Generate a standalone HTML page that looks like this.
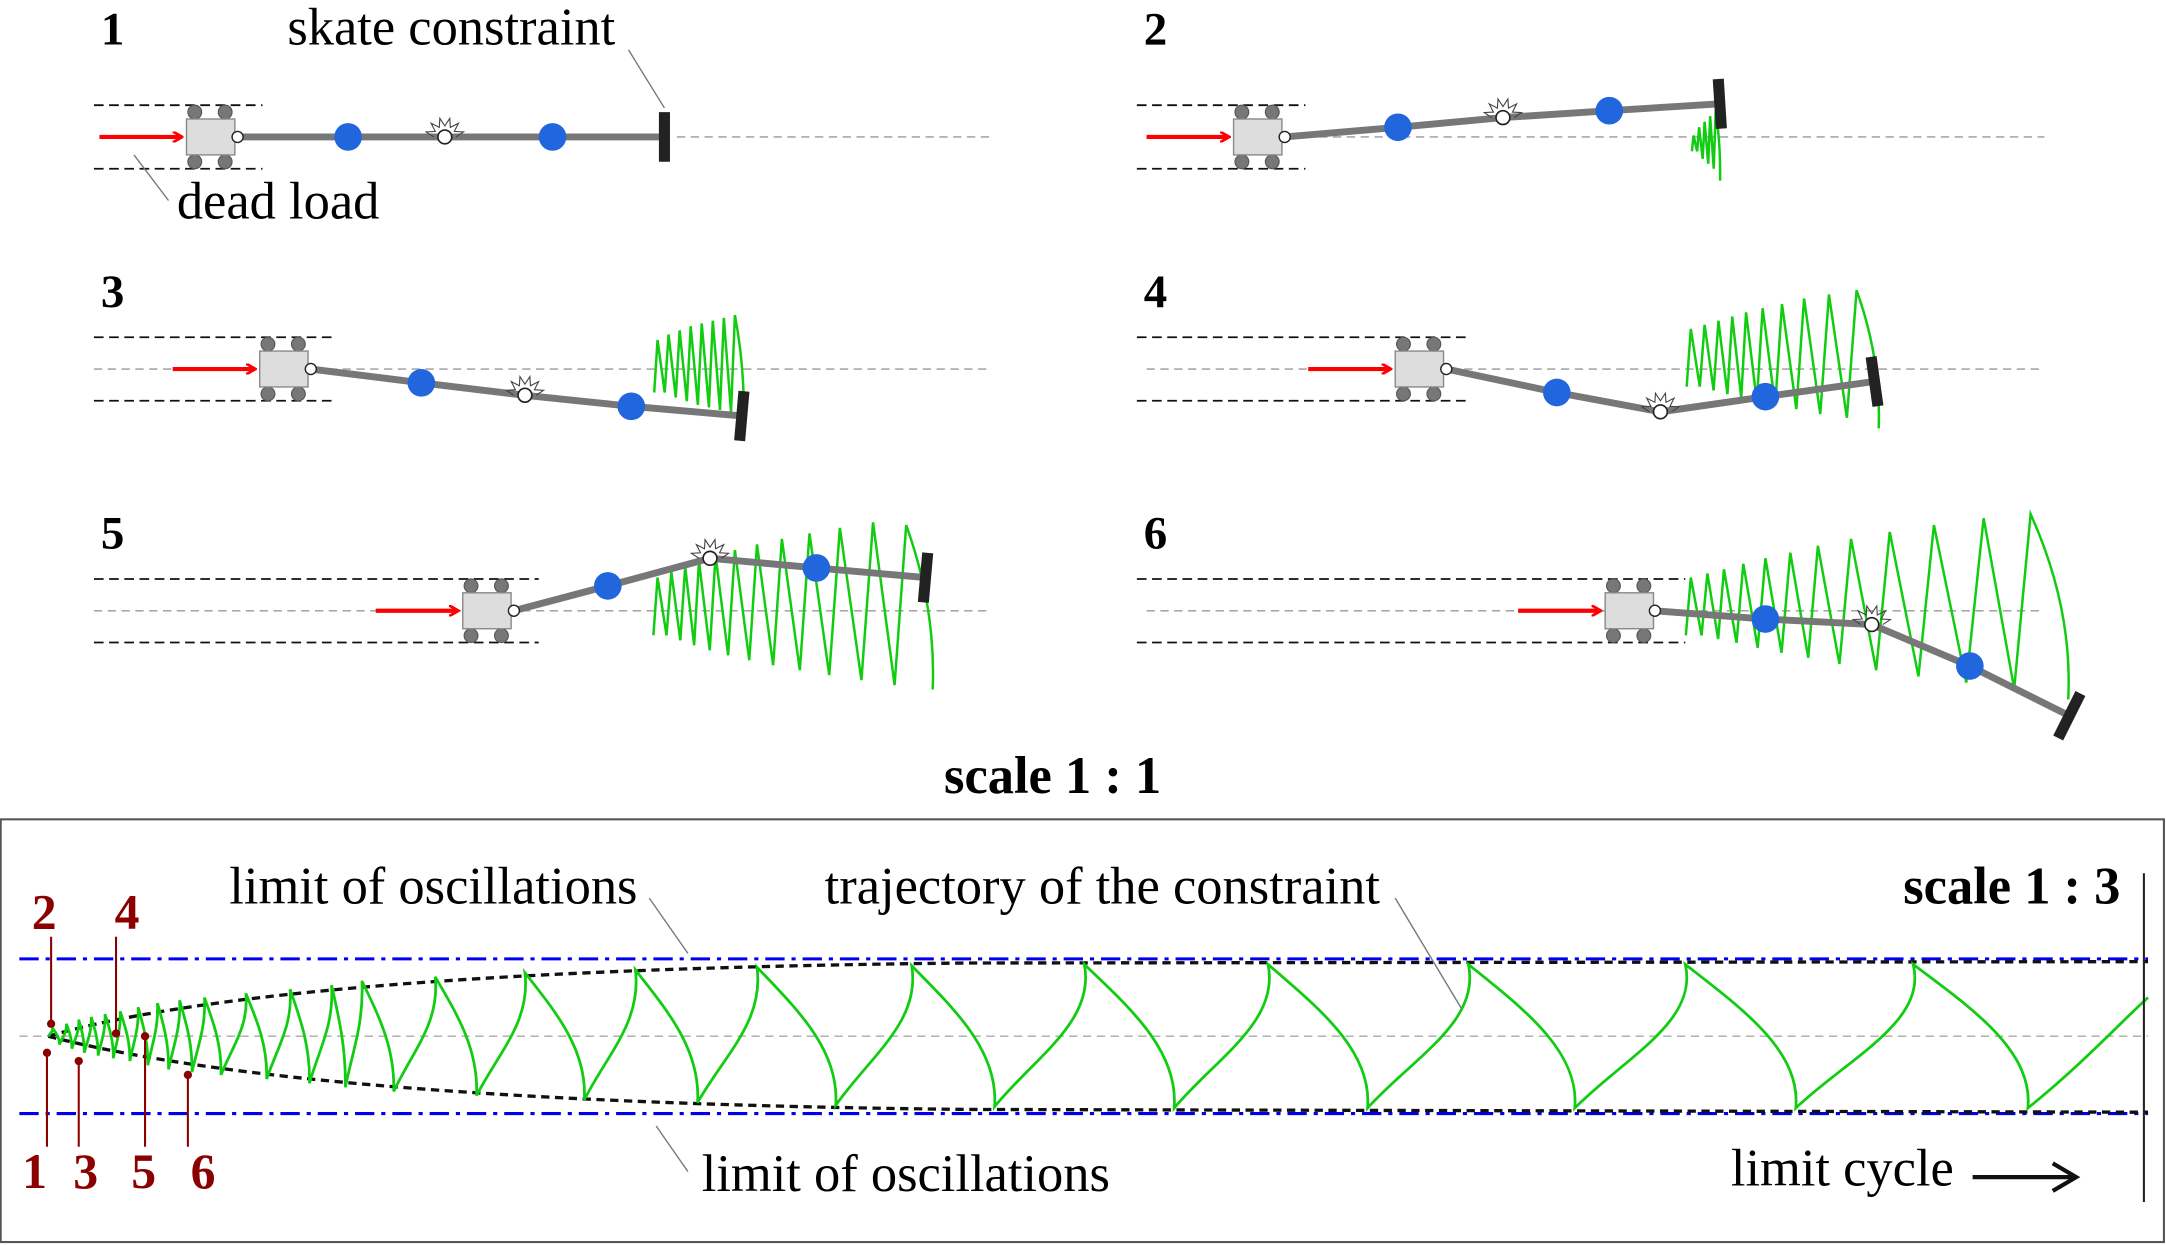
<!DOCTYPE html>
<html><head><meta charset="utf-8">
<style>
html,body{margin:0;padding:0;background:#fff;}
svg{display:block;}
text{font-family:"Liberation Serif",serif;}
</style></head>
<body>
<svg id="fig" width="2166" height="1245" viewBox="0 0 1568 901" xmlns="http://www.w3.org/2000/svg">
<defs>
<marker id="ah" markerWidth="8" markerHeight="8" refX="6" refY="4" orient="auto" markerUnits="userSpaceOnUse"><path d="M0,0 L7,4 L0,8" fill="none" stroke="#f00" stroke-width="2"/></marker>
</defs>
<g id="panels"></g>
<text x="762" y="574" font-size="38" font-weight="bold" text-anchor="middle">scale 1 : 1</text>
<rect x="0.5" y="593" width="1566" height="306" fill="none" stroke="#555" stroke-width="1.5"/>
<g id="bottom"></g>
</svg>
<script>
// bottom trajectory data
const topX = [38,48,57,66,76,87,100,114,130,148,178,210,240,262,315,380,460,548,660,785,918,1063,1220,1385];
const botX = [43,52,61,71,82,94,107,122,139,160,193,224,250,285,345,423,505,605,720,850,990,1140,1300,1468];
const amp  = [6,9,12,14,16,18,21,24,26,28,31,34,37,40,43,46,48,50,51,52,52,52,52,52];
// panel data
const p2X=[1226,1230,1234,1238,1242], p2A=[6,12,16,20,24];
const p3X=[476,484,492,500,508,516,524,532], p3A=[20,24,27,30,32,34,36,38];
const p4X=[1224,1234,1244,1254,1264,1276,1290,1306,1324,1344], p4A=[22,25,28,31,34,37,40,44,47,50];
const p5X=[476,486,496,506,518,532,548,566,586,608,632,656], p5A=[22,26,30,34,38,42,46,50,54,58,62,60];
const p6X=[1224,1236,1248,1262,1278,1296,1316,1340,1368,1400,1436,1470], p6A=[22,25,28,32,36,40,45,50,55,60,65,68];

const NS="http://www.w3.org/2000/svg";
function el(tag,attrs,parent){const e=document.createElementNS(NS,tag);for(const k in attrs)e.setAttribute(k,attrs[k]);parent.appendChild(e);return e;}
const P=document.getElementById('panels'), B=document.getElementById('bottom');

function fins(xs,as,yc,parent,name){
  let d='';
  for(let i=0;i<xs.length;i++){
    const a=as[i], x=xs[i], nx=(i+1<xs.length)?xs[i+1]:x+(x-xs[i-1]);
    const w=nx-x;
    const ty=yc-a, by=yc+a*0.9;
    if(i===0)d+=`M${x-w*0.3},${by}`;
    d+=` L${x},${ty}`;
    if(i===xs.length-1) d+=` Q${x+w*0.9},${yc} ${x+w*0.8},${by+5}`;
    else d+=` L${x+w*0.65},${by}`;
  }
  const p=el('path',{d:d,fill:'none',stroke:'#1c1','stroke-width':1.8,'stroke-linejoin':'miter'},parent);
  
  
}

function panel(o){
  const g=el('g',{},P);
  
  
  const t=el('text',{x:o.nx,y:o.ny,'font-size':34,'font-weight':'bold'},g);t.textContent=o.n;
  
  const c=el('line',{x1:o.gx1,y1:o.yc,x2:o.gx2,y2:o.yc,stroke:'#999','stroke-width':1,'stroke-dasharray':'6,4'},g);
  
  [o.yc-23,o.yc+23].forEach(y=>{const l=el('line',{x1:o.dx1,y1:y,x2:o.dx2,y2:y,stroke:'#111','stroke-width':1.3,'stroke-dasharray':'7,4'},g);
    });
  if(o.fx)fins(o.fx,o.fa,o.fyc||o.yc,g,'constraint-trajectory');
  const a=el('line',{x1:o.cx-63,y1:o.yc,x2:o.cx-4,y2:o.yc,stroke:'#f00','stroke-width':3,'marker-end':'url(#ah)'},g);
  
  [[6,-18],[28,-18],[6,18],[28,18]].forEach(w=>{const cc=el('circle',{cx:o.cx+w[0],cy:o.yc+w[1],r:5,fill:'#777',stroke:'#555','stroke-width':0.8},g);
    });
  const r=el('rect',{x:o.cx,y:o.yc-13,width:35,height:26,fill:'#ddd',stroke:'#888','stroke-width':1},g);
  
  const pts=o.pts;
  const rod=el('polyline',{points:pts.map(p=>p.join(',')).join(' '),fill:'none',stroke:'#777','stroke-width':5},g);
  
  const s=pts[pts.length-1], s0=pts[pts.length-2];
  const ang=Math.atan2(s[1]-s0[1],s[0]-s0[0]), nx=-Math.sin(ang), ny=Math.cos(ang);
  const bar=el('line',{x1:s[0]-nx*18,y1:s[1]-ny*18,x2:s[0]+nx*18,y2:s[1]+ny*18,stroke:'#222','stroke-width':8},g);
  
  [pts[1],pts[3]].forEach(p=>{const m=el('circle',{cx:p[0],cy:p[1],r:10,fill:'#2266dd'},g);
    });
  const h=pts[2]; let sd='';
  for(let k=0;k<=12;k++){const an=Math.PI+k*Math.PI/12, rr=k%2?14:8;sd+=(k?'L':'M')+(h[0]+rr*Math.cos(an)).toFixed(1)+','+(h[1]+rr*Math.sin(an)).toFixed(1);}
  const sp=el('path',{d:sd,fill:'none',stroke:'#444','stroke-width':0.8},g);
  
  const hc=el('circle',{cx:h[0],cy:h[1],r:5,fill:'#fff',stroke:'#222','stroke-width':1.2},g);
  
  const hc2=el('circle',{cx:pts[0][0],cy:pts[0][1],r:4,fill:'#fff',stroke:'#222','stroke-width':1},g);
  
}

panel({n:'1',nx:73,ny:32,yc:99,cx:135,dx1:68,dx2:190,gx1:490,gx2:718,pts:[[172,99],[252,99],[322,99],[400,99],[481,99]]});
panel({n:'2',nx:828,ny:32,yc:99,cx:893,dx1:823,dx2:945,gx1:945,gx2:1480,pts:[[930,99],[1012,92],[1088,85],[1165,80],[1245,75]],fx:p2X,fa:p2A,fyc:104});
panel({n:'3',nx:73,ny:222,yc:267,cx:188,dx1:68,dx2:243,gx1:68,gx2:718,pts:[[225,267],[305,277],[380,286],[457,294],[537,301]],fx:p3X,fa:p3A,fyc:266});
panel({n:'4',nx:828,ny:222,yc:267,cx:1010,dx1:823,dx2:1065,gx1:830,gx2:1480,pts:[[1047,267],[1127,284],[1202,298],[1278,287],[1357,276]],fx:p4X,fa:p4A,fyc:260});
panel({n:'5',nx:73,ny:397,yc:442,cx:335,dx1:68,dx2:390,gx1:68,gx2:718,pts:[[372,442],[440,424],[514,404],[591,411],[670,418]],fx:p5X,fa:p5A,fyc:440});
panel({n:'6',nx:828,ny:397,yc:442,cx:1162,dx1:823,dx2:1220,gx1:830,gx2:1480,pts:[[1198,442],[1278,448],[1355,452],[1426,482],[1498,518]],fx:p6X,fa:p6A,fyc:440});

function txt(x,y,s,parent,name,extra){const t=el('text',Object.assign({x:x,y:y,'font-size':38},extra||{}),parent);t.textContent=s;
  return t;}
function ln(x1,y1,x2,y2,parent,name,col,w){const l=el('line',{x1,y1,x2,y2,stroke:col||'#777','stroke-width':w||1},parent);
  return l;}
txt(208,32,'skate constraint',P,'skate-constraint-label');
ln(455,36,481,78,P,'skate-constraint-leader');
txt(128,158,'dead load',P,'dead-load-label');
ln(97,112,122,145,P,'dead-load-leader');

// bottom plot
const yc=750;
ln(14,750,1555,750,B,'bottom-centerline','#aaa',1).setAttribute('stroke-dasharray','6,4');
[694,806].forEach(y=>{const l=ln(14,y,1555,y,B,'oscillation-limit-line','#0000ee',2.2);l.setAttribute('stroke-dasharray','14,5,3,5');});
const env=el('path',{d:'M35,750 Q200,702 700,697 L1555,696 M35,750 Q220,798 700,803 L1555,805',fill:'none',stroke:'#111','stroke-width':2.4,'stroke-dasharray':'6,4'},B);

{
  let d=`M35,750`;
  let px=35, py=750;
  for(let i=0;i<topX.length;i++){
    const a=amp[i], tx=topX[i], bx=botX[i], ty=yc-a, by=yc+a;
    const w2=tx-px, h2=py-ty;
    d+=` C${(px+0.45*w2).toFixed(1)},${(py-0.35*h2).toFixed(1)} ${(tx+0.12*w2).toFixed(1)},${(ty+0.4*h2).toFixed(1)} ${tx},${ty}`;
    const w=bx-tx, h=by-ty;
    d+=` C${(tx+0.5*w).toFixed(1)},${(ty+0.3*h).toFixed(1)} ${(bx+0.05*w).toFixed(1)},${(by-0.4*h).toFixed(1)} ${bx},${by}`;
    px=bx; py=by;
  }
  d+=` C${1468+40},${770} 1540,${735} 1555,${722}`;
  const g=el('path',{d:d,fill:'none',stroke:'#1c1','stroke-width':2},B);
  
}
ln(1552,632,1552,870,B,'limit-cycle-marker','#222',1.5);
txt(166,654,'limit of oscillations',B,'upper-limit-label');
ln(470,650,498,690,B,'upper-limit-leader');
txt(597,654,'trajectory of the constraint',B,'trajectory-label');
ln(1010,650,1058,730,B,'trajectory-leader');
txt(508,862,'limit of oscillations',B,'lower-limit-label');
ln(475,815,498,848,B,'lower-limit-leader');
txt(1535,654,'scale 1 : 3',B,'scale-1-3-label',{'font-weight':'bold','text-anchor':'end'});
txt(1253,858,'limit cycle',B,'limit-cycle-label');
const arr=el('path',{d:'M1428,852 L1502,852 M1486,842 L1503,852 L1486,862',fill:'none',stroke:'#111','stroke-width':3},B);

const mk=[['2',35,672,37,741,true],['4',95,672,84,748,true],['1',28,860,34,762,false],['3',65,860,57,768,false],['5',107,860,105,750,false],['6',150,860,136,778,false]];
mk.forEach(m=>{
  txt(m[1]-12,m[2],m[0],B,'snapshot-marker-'+m[0],{fill:'#8b0000','font-weight':'bold','font-size':36});
  ln(m[3],m[5]?m[2]+6:m[2]-30,m[3],m[4],B,'snapshot-marker-line','#8b0000',1.5);
  const c=el('circle',{cx:m[3],cy:m[4],r:3,fill:'#8b0000'},B);
  
});
</script>
</body></html>
